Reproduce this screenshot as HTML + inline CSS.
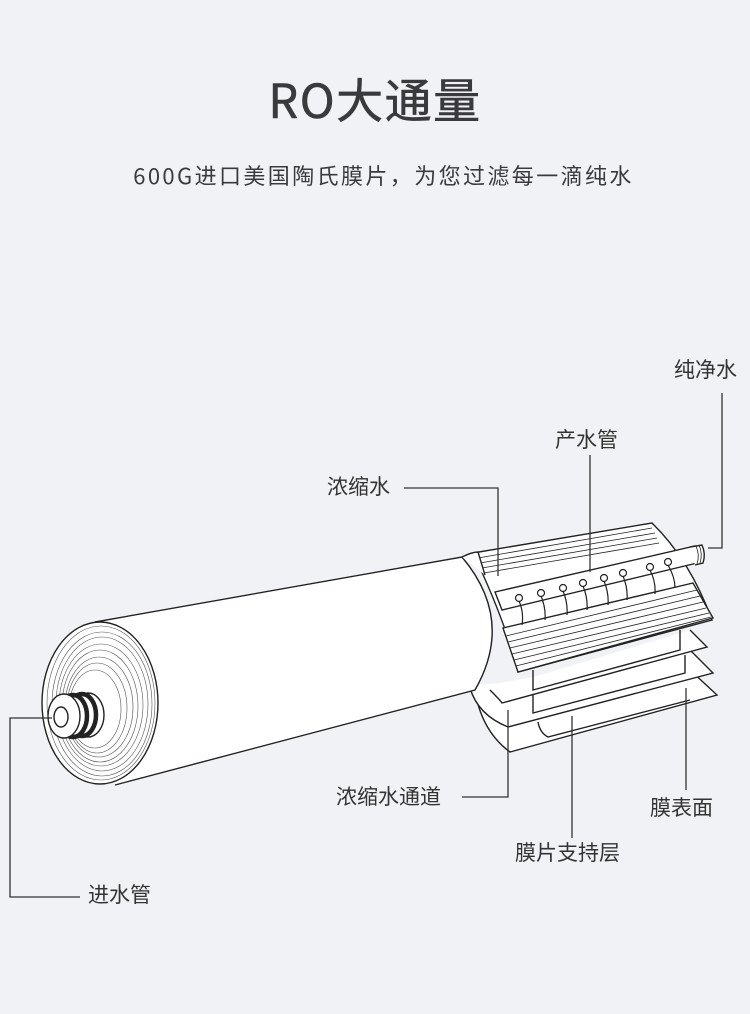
<!DOCTYPE html>
<html><head><meta charset="utf-8"><style>
html,body{margin:0;padding:0;background:#f1f2f6;}
body{width:750px;height:1014px;position:relative;overflow:hidden;font-family:"Noto Sans CJK SC","Liberation Sans",sans-serif;color:#333;}
.t{position:absolute;white-space:nowrap;font-size:21px;line-height:1.2;}
</style></head><body>
<div class="t" style="left:0;width:750px;text-align:center;top:70px;font-size:47px;font-weight:400;color:#3a3a3c;letter-spacing:1.5px;-webkit-text-stroke:0.6px #3a3a3c;">RO大通量</div>
<div class="t" style="left:0;width:767px;text-align:center;top:162px;font-size:22px;color:#3a3a3c;letter-spacing:2.4px;">600G进口美国陶氏膜片，为您过滤每一滴纯水</div>
<svg width="750" height="1014" style="position:absolute;left:0;top:0" fill="none" stroke="#222" stroke-width="1.4">
<path d="M474,685 Q480,730 510,752 L717,695 L690,670" fill="#fff"/>
<path d="M470,688 Q478,715 508,727 L713,673 L690,650" fill="#fff"/>
<path d="M490,690 Q500,700 502,703 L707,647 L690,630" fill="#fff"/>
<path d="M533,670 L533,690 L680,650 L680,630" />
<path d="M533,695 L533,713 L685,673 L685,655"/>
<path d="M538,722 Q540,733 548,737 L690,700"/>
<path d="M473,553 L652,523 Q690,560 712,620 L518,672 Q505,620 473,553Z" fill="#fff"/>
<path d="M478,558 L652,528 M480,563 L655,533 M482,568 L657,538 M484,573 L659,543" stroke-width="0.8"/>
<path d="M503,628 L693,583 L713,618 L518,672Z" fill="#fff"/>
<g stroke-width="0.8">
<path d="M506,636 L697,590 M508,642 L700,596 M510,648 L703,602 M512,654 L706,608 M514,660 L709,613 M516,666 L711,617"/>
</g>
<path d="M495,592 L695,546 L697,563 L502,610Z" fill="#fff"/>
<path d="M690,547 L702,545 Q706,554 703,563 L695,565" fill="#fff"/>
<path d="M696,546 Q700,555 697,564 M699,545 Q703,554 700,563" stroke-width="0.8"/>
<g stroke-width="1.2" fill="#fff">
<circle cx="519" cy="598" r="3.5"/><circle cx="541" cy="593" r="3.5"/><circle cx="563" cy="588" r="3.5"/><circle cx="583" cy="583" r="3.5"/><circle cx="604" cy="578" r="3.5"/><circle cx="623" cy="573" r="3.5"/><circle cx="650" cy="567" r="3.5"/><circle cx="668" cy="562" r="3.5"/>
</g>
<g stroke-width="1.2">
<path d="M519,601 Q524,612 522,625 M541,596 Q546,608 545,620 M563,591 Q568,603 567,615 M583,586 Q588,598 587,610 M604,581 Q609,593 608,605 M623,576 Q628,588 627,600 M650,570 Q656,582 655,594 M668,565 Q675,577 675,588"/>
</g>
<path d="M95,622 L462,557 Q515,620 475,690 L115,785" fill="#fff"/>
<path d="M462,557 Q472,552 478,552 L485,575" fill="#fff"/>
<ellipse cx="100" cy="703" rx="58" ry="81" fill="#fff"/>
<g stroke-width="0.6" stroke="#555">
<ellipse cx="101" cy="703" rx="54" ry="77"/><ellipse cx="102" cy="704" rx="50" ry="72"/><ellipse cx="102" cy="704" rx="46" ry="67"/><ellipse cx="101" cy="705" rx="42" ry="61"/><ellipse cx="100" cy="706" rx="38" ry="56"/><ellipse cx="99" cy="707" rx="34" ry="50"/><ellipse cx="97" cy="708" rx="30" ry="45"/><ellipse cx="95" cy="709" rx="26" ry="39"/>
</g>
<ellipse cx="88" cy="715" rx="16" ry="22" fill="#fff"/>
<ellipse cx="82" cy="715" rx="14" ry="21" fill="#fff" stroke-width="4.5"/>
<ellipse cx="73" cy="716" rx="14" ry="21" fill="#fff" stroke-width="4.5"/>
<ellipse cx="64" cy="716" rx="16" ry="22" fill="#fff"/>
<ellipse cx="61" cy="717" rx="7" ry="10" fill="#fff"/>
<g stroke="#333" stroke-width="1.3">
<path d="M722,393 V548 H708"/>
<path d="M590,455 V572"/>
<path d="M404,488 H498 V576"/>
<path d="M462,797 H508 V710"/>
<path d="M686,790 V688"/>
<path d="M572,838 V716"/>
<path d="M80,897 H10 V718 H52"/>
</g>
</svg>
<div class="t" style="left:674px;top:357px;">纯净水</div>
<div class="t" style="left:555px;top:427px;">产水管</div>
<div class="t" style="left:327px;top:474px;">浓缩水</div>
<div class="t" style="left:336px;top:784px;">浓缩水通道</div>
<div class="t" style="left:650px;top:795px;">膜表面</div>
<div class="t" style="left:515px;top:840px;">膜片支持层</div>
<div class="t" style="left:88px;top:882px;">进水管</div>
</body></html>
